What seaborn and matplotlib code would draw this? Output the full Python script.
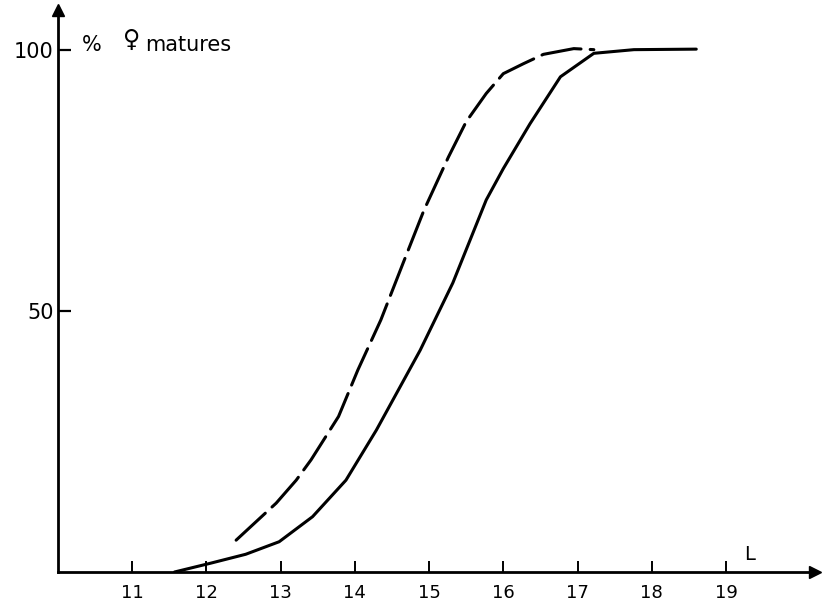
import matplotlib
matplotlib.use("Agg")
import matplotlib.pyplot as plt
import seaborn as sns

# Data
solid_L = [11.57, 12.06, 12.53, 12.98, 13.43, 13.88, 14.29, 14.88, 15.32, 15.77,
           16.0, 16.36, 16.77, 16.99, 17.22, 17.76, 18.6]
solid_pct = [0.0, 1.7, 3.4, 5.8, 10.6, 17.6, 27.2, 42.5, 55.4, 71.3,
             77.3, 85.9, 94.9, 97.1, 99.4, 100.1, 100.2]

dashed_L = [12.40, 12.94, 13.21, 13.41, 13.78, 14.04, 14.35, 14.65, 14.93, 15.26,
            15.50, 15.77, 16.0, 16.27, 16.54, 16.95, 17.22]
dashed_pct = [6.1, 13.2, 17.6, 21.5, 29.8, 38.7, 48.3, 59.2, 69.3, 79.5,
              86.3, 91.7, 95.5, 97.4, 99.2, 100.3, 100.1]

x_ticks = [11, 12, 13, 14, 15, 16, 17, 18, 19]
y_ticks = [50, 100]
y_label_parts = ["%", "\u2640", "matures"]
x_label = "L"

sns.set_style("ticks")
plt.rcParams['font.family'] = ['DejaVu Sans']
plt.rcParams['text.color'] = 'black'
plt.rcParams['xtick.color'] = 'black'
plt.rcParams['ytick.color'] = 'black'
plt.rcParams['xtick.labelcolor'] = 'black'
plt.rcParams['ytick.labelcolor'] = 'black'

fig = plt.figure(figsize=(8.31, 6.05), dpi=100)
ax = fig.add_axes([58 / 831, 1 - 572 / 605, 757 / 831, 562 / 605])

sns.lineplot(x=solid_L, y=solid_pct, ax=ax, color="black", lw=2.2,
             estimator=None, sort=False)
sns.lineplot(x=dashed_L, y=dashed_pct, ax=ax, color="black", lw=2.2,
             estimator=None, sort=False, linestyle=(0, (13, 3)))
for ln in ax.lines:
    ln.set_solid_capstyle("round")
    ln.set_dash_capstyle("round")
    ln.set_solid_joinstyle("round")
    ln.set_dash_joinstyle("round")

ax.set_xlim(10.0, 20.2)
ax.set_ylim(0, 107.7)

for s in ["top", "right"]:
    ax.spines[s].set_visible(False)
for s in ["left", "bottom"]:
    ax.spines[s].set_linewidth(2.0)
    ax.spines[s].set_color("black")

ax.set_xticks(x_ticks)
ax.set_xticklabels([str(t) for t in x_ticks], fontsize=13)
ax.set_yticks(y_ticks)
ax.set_yticklabels([str(t) for t in y_ticks], fontsize=15)
ax.tick_params(axis="x", direction="in", length=8, width=1.4, pad=9, colors="black")
ax.tick_params(axis="y", direction="in", length=9, width=1.6, pad=3, colors="black")

# arrow heads
ax.plot(1, 0, ">", color="black", markersize=9, transform=ax.transAxes, clip_on=False)
ax.plot(0, 1, "^", color="black", markersize=9, transform=ax.transAxes, clip_on=False)

ax.text(10.32, 101.0, y_label_parts[0], fontsize=15, ha="left", va="center", color="black")
ax.text(10.88, 102.0, y_label_parts[1], fontsize=17, ha="left", va="center", color="black")
ax.text(11.18, 101.0, y_label_parts[2], fontsize=15, ha="left", va="center", color="black")
ax.text(19.25, 3.4, x_label, fontsize=14, ha="left", va="center", color="black")

ax.set_xlabel("")
ax.set_ylabel("")

fig.savefig("out.png", dpi=100)
